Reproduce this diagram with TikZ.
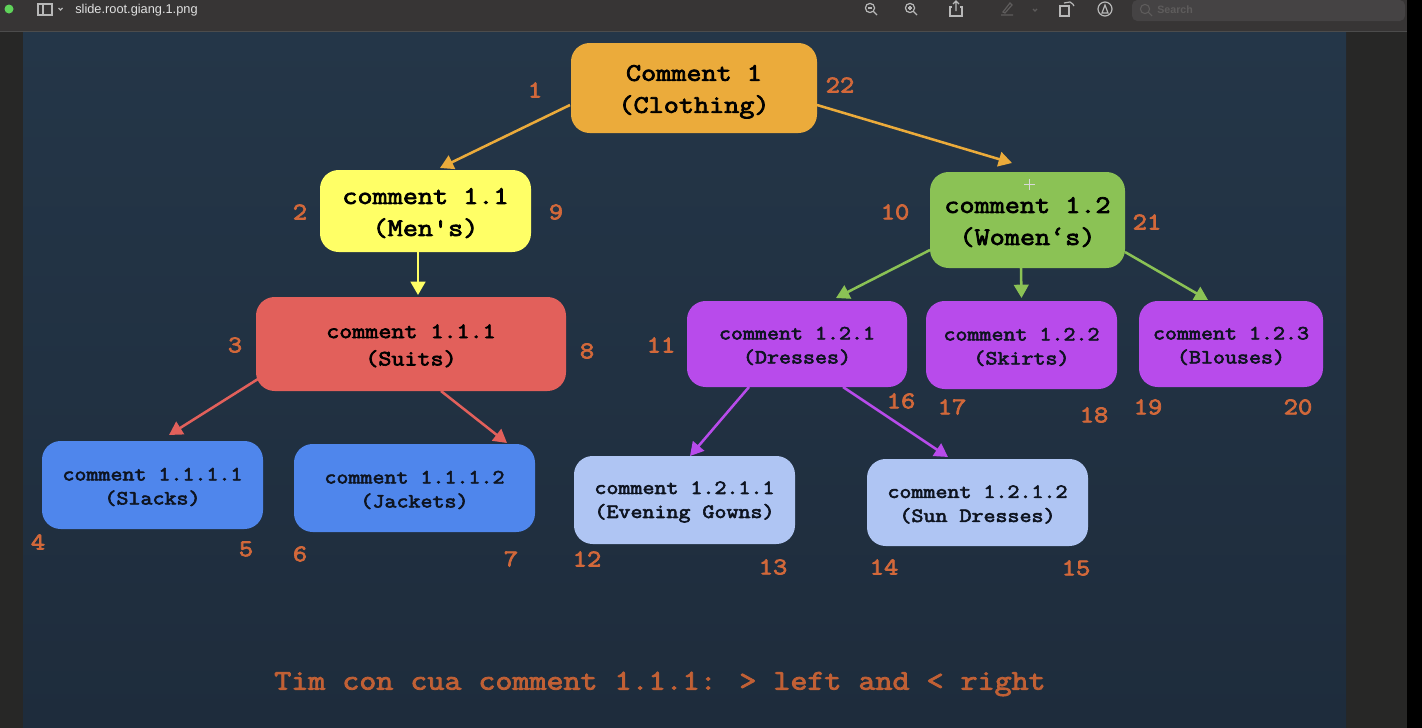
\documentclass[tikz,border=0pt]{standalone}
\usepackage{fontspec}
\setmainfont{Liberation Sans}
\newfontfamily\cour{Latin Modern Mono}[FakeStretch=1.158,FakeBold=3]
\usetikzlibrary{calc,arrows.meta}
\definecolor{barbg}{HTML}{373535}
\definecolor{sidebg}{HTML}{272726}
\definecolor{slidetop}{HTML}{243648}
\definecolor{slidebot}{HTML}{1E2C3C}
\definecolor{numc}{HTML}{D2683A}
\definecolor{cRoot}{HTML}{EBAB3B}
\definecolor{cMen}{HTML}{FFFF66}
\definecolor{cWomen}{HTML}{8BC255}
\definecolor{cSuits}{HTML}{E2605B}
\definecolor{cPurple}{HTML}{B84BEB}
\definecolor{cBlue}{HTML}{4F86EC}
\definecolor{cPale}{HTML}{AFC5F3}
\definecolor{txtdark}{HTML}{0E1420}
\definecolor{iconc}{HTML}{B8B8B8}
\definecolor{icond}{HTML}{5E5C5C}
\definecolor{dotc}{HTML}{5FD35A}
\definecolor{searchbg}{HTML}{454344}
\newcommand\padroot{\rule{0pt}{17.6pt}}
\newcommand\padbig{\rule{0pt}{15pt}}
\newcommand\padmid{\rule{0pt}{13pt}}
\newcommand\padsmall{\rule{0pt}{12.4pt}}
\tikzset{
  x=0.75pt,y=-0.75pt,
  box/.style={draw=none,rounded corners=14pt,inner sep=0pt,outer sep=0pt,align=center,text=black},
  big/.style={box,font=\cour\fontsize{19}{24}\selectfont},
  mid/.style={box,font=\cour\fontsize{16.4}{20.5}\selectfont},
  small/.style={box,text=txtdark,font=\cour\fontsize{15.1}{18}\selectfont},
  num/.style={text=numc,inner sep=0pt,font=\cour\fontsize{18}{20}\selectfont},
  link/.style={line width=1.9pt,-{Triangle[length=10pt,width=11pt]}},
  icon/.style={draw=iconc,line width=0.9pt},
  dimicon/.style={draw=icond,line width=0.9pt}
}
\begin{document}
\begin{tikzpicture}
\useasboundingbox (0,0) rectangle (1422,728);
% window
\fill[sidebg] (0,0) rectangle (1422,728);
\fill[black] (1407,0) rectangle (1422,728);
\fill[barbg] (0,0) rectangle (1407,31);
\shade[top color=slidetop,bottom color=slidebot] (23,32) rectangle (1346,728);
\draw[black!70,line width=0.6pt] (0,31.5) -- (1407,31.5);
% toolbar
\fill[dotc] (9,9) circle (4.5);
\draw[icon] (38,4) rectangle (52,15);
\draw[icon] (43,4) -- (43,15);
\draw[icon] (58.5,8) -- (60.5,10) -- (62.5,8);
\node[text=white!88!black,anchor=west,inner sep=0pt,font=\fontsize{9.6}{11}\selectfont] (title) at (75,10.5) {slide.root.giang.1.png};
\draw[icon] (870,8) circle (4.6); \draw[icon] (873.5,11.5) -- (877,15); \draw[icon] (868,8) -- (872,8);
\draw[icon] (910,8) circle (4.6); \draw[icon] (913.5,11.5) -- (917,15); \draw[icon] (908,8) -- (912,8) (910,6) -- (910,10);
\draw[icon] (952,7) -- (950,7) -- (950,16) -- (962,16) -- (962,7) -- (960,7);
\draw[icon] (956,11) -- (956,1) (953,4) -- (956,1) -- (959,4);
\draw[dimicon] (1001,15) -- (1013,15) (1003,12) -- (1010,3) -- (1012,5) -- (1005,13) -- cycle;
\draw[dimicon] (1033,9) -- (1035,11) -- (1037,9);
\draw[icon] (1060,6) rectangle (1069,16);
\draw[icon] (1064,3) -- (1070,2) .. controls (1073,3) and (1073,5) .. (1074,6);
\draw[icon] (1105,9) circle (7);
\draw[icon] (1102,13) -- (1105,5) -- (1108,13) -- cycle;
\fill[searchbg,rounded corners=4pt] (1132,0) rectangle (1405,21);
\draw[draw=icond,line width=0.8pt] (1145,9) circle (4.6) (1148.5,12.5) -- (1152,16);
\node[text=icond,anchor=west,inner sep=0pt,font=\fontsize{8}{10}\selectfont\bfseries] (search) at (1157,10) {Search};
% tree nodes
\node[big,fill=cRoot,minimum width=246*0.75pt,minimum height=90*0.75pt] (root) at (694,88) {\padroot Comment 1\\(Clothing)};
\node[big,fill=cMen,minimum width=211*0.75pt,minimum height=82*0.75pt] (men) at (425.5,211) {\padbig comment 1.1\\(Men's)};
\node[big,fill=cWomen,minimum width=195*0.75pt,minimum height=96*0.75pt] (women) at (1027.5,220) {\padbig comment 1.2\\(Women‘s)};
\node[mid,fill=cSuits,minimum width=310*0.75pt,minimum height=94*0.75pt] (suits) at (411,344) {\padmid comment 1.1.1\\(Suits)};
\node[small,fill=cPurple,minimum width=220*0.75pt,minimum height=86*0.75pt] (dresses) at (797,344) {\padsmall comment 1.2.1\\(Dresses)};
\node[small,fill=cPurple,minimum width=191*0.75pt,minimum height=88*0.75pt] (skirts) at (1021.5,345) {\padsmall comment 1.2.2\\(Skirts)};
\node[small,fill=cPurple,minimum width=184*0.75pt,minimum height=86*0.75pt] (blouses) at (1231,344) {\padsmall comment 1.2.3\\(Blouses)};
\node[small,fill=cBlue,minimum width=221*0.75pt,minimum height=88*0.75pt] (slacks) at (152.5,485) {\padsmall comment 1.1.1.1\\(Slacks)};
\node[small,fill=cBlue,minimum width=241*0.75pt,minimum height=88*0.75pt] (jackets) at (414.5,488) {\padsmall comment 1.1.1.2\\(Jackets)};
\node[small,fill=cPale,minimum width=221*0.75pt,minimum height=88*0.75pt] (evening) at (684.5,500) {\padsmall comment 1.2.1.1\\(Evening Gowns)};
\node[small,fill=cPale,minimum width=221*0.75pt,minimum height=87*0.75pt] (sun) at (977.5,502.5) {\padsmall comment 1.2.1.2\\(Sun Dresses)};
% connector ends (arrow tips stop short of the child box)
\coordinate (tMen) at ($(men.north)+(14.5,-2)$);
\coordinate (tWomen) at ($(women.north)+(-15.5,-9)$);
\coordinate (tSuits) at ($(suits.north)+(7,-2)$);
\coordinate (tSlacks) at ($(slacks.north)+(16.5,-6)$);
\coordinate (tJackets) at ($(jackets.north)+(92.5,-1)$);
\coordinate (tDresses) at ($(dresses.north)+(39,-3)$);
\coordinate (tSkirts) at ($(skirts.north)+(0,-3)$);
\coordinate (tBlouses) at ($(blouses.north)+(-23,-1)$);
\coordinate (tEvening) at ($(evening.north)+(5.5,0)$);
\coordinate (tSun) at ($(sun.north)+(-29.5,-2)$);
% connectors
\draw[link,cRoot] ($(root.west)+(-1,17)$) -- (tMen);
\draw[link,cRoot] ($(root.east)+(0,17)$) -- (tWomen);
\draw[link,cMen] ($(men.south)+(-7.5,0)$) -- (tSuits);
\draw[link,cSuits] ($(suits.west)+(2,35)$) -- (tSlacks);
\draw[link,cSuits] ($(suits.south)+(30,0)$) -- (tJackets);
\draw[link,cWomen] ($(women.west)+(0,30)$) -- (tDresses);
\draw[link,cWomen] ($(women.south)+(-6.5,0)$) -- (tSkirts);
\draw[link,cWomen] ($(women.east)+(0,32)$) -- (tBlouses);
\draw[link,cPurple] ($(dresses.south)+(-48,0)$) -- (tEvening);
\draw[link,cPurple] ($(dresses.south)+(46,0)$) -- (tSun);
% cursor
\draw[white!85!black,line width=0.7pt] (1024,184) -- (1035,184) (1029.5,178.5) -- (1029.5,189.5);
% numbers
\foreach \n/\x/\y in {1/535/90,22/840/85,2/300/212,9/556/212,10/895/212,21/1147/222,3/235/345,8/587/351,11/661/345,16/901/401,17/952/407,18/1094/415,19/1148/407,20/1298/407,4/38/542,5/246/549,6/300/554,7/511/559,12/587/559,13/773/567,14/884/567,15/1076/568}
  \node[num] (n\n) at (\x,\y) {\n};
% caption
\node[inner sep=0pt,text=numc!92!black,font=\cour\fontsize{21.4}{24}\selectfont] (caption) at (660,684) {Tim con cua comment 1.1.1: > left and < right};
\end{tikzpicture}
\end{document}
